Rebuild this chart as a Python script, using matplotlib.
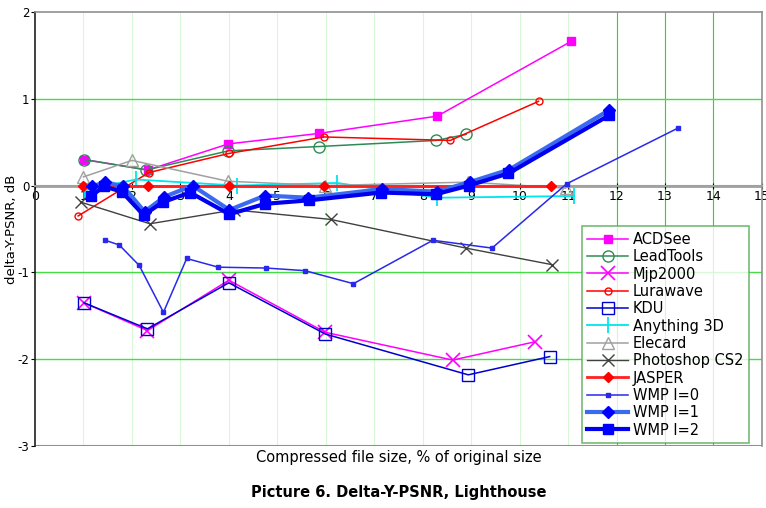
import matplotlib
matplotlib.use("Agg")
import matplotlib.pyplot as plt

# values
acdsee_x = [1.01, 2.33, 3.99, 5.85, 8.30, 11.06]
acdsee_y = [0.30, 0.18, 0.48, 0.60, 0.80, 1.66]

leadtools_x = [1.01, 2.30, 3.99, 5.87, 8.28, 8.90]
leadtools_y = [0.30, 0.18, 0.40, 0.45, 0.52, 0.59]

mjp2000_x = [1.01, 2.32, 4.00, 5.99, 8.62, 10.31]
mjp2000_y = [-1.35, -1.67, -1.09, -1.69, -2.01, -1.80]

lurawave_x = [0.89, 2.35, 4.00, 5.96, 8.57, 10.39]
lurawave_y = [-0.35, 0.15, 0.37, 0.56, 0.52, 0.97]

kdu_x = [1.01, 2.32, 4.00, 5.99, 8.94, 10.62]
kdu_y = [-1.35, -1.65, -1.12, -1.71, -2.18, -1.97]

anything3d_x = [1.03, 2.08, 4.16, 6.24, 8.30, 11.12]
anything3d_y = [-0.05, 0.07, 0.00, 0.03, -0.14, -0.12]

elecard_x = [1.00, 2.00, 3.98, 5.99, 8.94, 10.95]
elecard_y = [0.10, 0.29, 0.05, 0.00, 0.04, -0.03]

photoshop_x = [0.94, 2.37, 4.11, 6.10, 8.89, 10.66]
photoshop_y = [-0.19, -0.44, -0.28, -0.39, -0.72, -0.91]

jasper_x = [1.00, 2.33, 4.00, 5.96, 8.92, 10.65]
jasper_y = [0.0, 0.0, 0.0, 0.0, 0.0, 0.0]

wmp0_x = [1.45, 1.74, 2.15, 2.65, 3.13, 3.78, 4.77, 5.57, 6.57, 8.21, 9.43, 10.97, 13.26]
wmp0_y = [-0.63, -0.685, -0.92, -1.46, -0.84, -0.94, -0.95, -0.98, -1.13, -0.63, -0.72, 0.02, 0.66]

wmp1_x = [1.17, 1.45, 1.82, 2.26, 2.67, 3.25, 4.01, 4.75, 5.64, 7.16, 8.29, 8.97, 9.79, 11.85]
wmp1_y = [-0.01, 0.04, -0.01, -0.30, -0.13, 0.00, -0.28, -0.115, -0.14, -0.04, -0.07, 0.04, 0.185, 0.87]

wmp2_x = [1.16, 1.42, 1.79, 2.24, 2.64, 3.20, 4.01, 4.75, 5.65, 7.14, 8.27, 8.95, 9.77, 11.85]
wmp2_y = [-0.12, -0.01, -0.07, -0.34, -0.19, -0.08, -0.33, -0.21, -0.17, -0.08, -0.10, 0.00, 0.14, 0.81]

x_ticks = list(range(0, 16))
y_ticks = [2, 1, 0, -1, -2, -3]

fig = plt.figure(figsize=(7.66, 5.08), dpi=100)
ax = fig.add_axes([0.0457, 0.122, 0.949, 0.8545])
ax.set_xlim(0, 15)
ax.set_ylim(-3, 2)

# grid as in the original spreadsheet chart
for gx in range(1, 12):
    ax.axvline(gx, color='#d8f8d8', lw=0.8, zorder=0)
for gx in range(12, 15):
    ax.axvline(gx, color='#22dd22', lw=0.8, zorder=0)
for gy in [1, -1, -2]:
    ax.axhline(gy, color='#44dd44', lw=1.0, zorder=0)
ax.axhline(-3, color='#909090', lw=1.5, zorder=1)
ax.axhline(0, color='#a0a0a0', lw=2.0, zorder=1)

ax.plot(acdsee_x, acdsee_y, color='#ff00ff', lw=1.1, marker='s', ms=6, label='ACDSee', zorder=3)
ax.plot(leadtools_x, leadtools_y, color='#2e8b57', lw=1.1, marker='o', ms=8, mfc='none',
        label='LeadTools', zorder=3)
ax.plot(mjp2000_x, mjp2000_y, color='#ff00ff', lw=1.1, marker='x', ms=10, mew=1.2,
        label='Mjp2000', zorder=3)
ax.plot(lurawave_x, lurawave_y, color='#ff0000', lw=1.1, marker='o', ms=5, mfc='none',
        label='Lurawave', zorder=3)
ax.plot(kdu_x, kdu_y, color='#0000cc', lw=1.1, marker='s', ms=8, mfc='none',
        label='KDU', zorder=3)
ax.plot(anything3d_x, anything3d_y, color='#00e5ee', lw=1.3, marker='|', ms=12, mew=1.3,
        label='Anything 3D', zorder=3)
ax.plot(elecard_x, elecard_y, color='#a0a0a0', lw=1.1, marker='^', ms=8, mfc='none',
        label='Elecard', zorder=3)
ax.plot(photoshop_x, photoshop_y, color='#404040', lw=1.0, marker='x', ms=9, mew=1.0,
        label='Photoshop CS2', zorder=3)
ax.plot(jasper_x, jasper_y, color='#ff2020', lw=2.0, marker='D', ms=5, mfc='#ff0000',
        mec='#ff0000', label='JASPER', zorder=4)
ax.plot(wmp0_x, wmp0_y, color='#2828ee', lw=1.1, marker='s', ms=2.5, label='WMP I=0', zorder=3)
ax.plot(wmp1_x, wmp1_y, color='#3a6af0', lw=3.0, marker='D', ms=6, mfc='#0000ff',
        mec='#0000ff', label='WMP I=1', zorder=4)
ax.plot(wmp2_x, wmp2_y, color='#0000ee', lw=3.0, marker='s', ms=7, mfc='#0000ff',
        mec='#0000ff', label='WMP I=2', zorder=4)

# axes: x axis crosses at zero
ax.spines['bottom'].set_position(('data', 0))
ax.spines['bottom'].set_color('#a0a0a0')
ax.spines['bottom'].set_linewidth(1.5)
ax.spines['left'].set_color('#202020')
ax.spines['left'].set_linewidth(1.2)
for side in ['top', 'right']:
    ax.spines[side].set_color('#909090')
    ax.spines[side].set_linewidth(1.2)

ax.set_xticks(x_ticks)
ax.set_xticklabels([str(v) for v in x_ticks], fontsize=9)
ax.set_yticks(y_ticks)
ax.set_yticklabels([str(v) for v in y_ticks], fontsize=8.5)
ax.tick_params(axis='x', direction='inout', length=4, pad=1, colors='#000000')
ax.tick_params(axis='y', direction='out', length=3, pad=1)

ax.set_ylabel('delta-Y-PSNR, dB', fontsize=9.5)
ax.yaxis.set_label_coords(-0.023, 0.50)

leg = ax.legend(loc='lower left', bbox_to_anchor=(0.752, 0.006), borderaxespad=0,
                fontsize=10.5, frameon=True, fancybox=False, labelspacing=0.16,
                handlelength=2.8, handletextpad=0.3, borderpad=0.4)
leg.get_frame().set_edgecolor('#55aa55')
leg.get_frame().set_linewidth(1.2)
leg.set_zorder(10)

fig.text(0.52, 0.100, 'Compressed file size, % of original size', ha='center', va='center',
         fontsize=10.5)
fig.text(0.52, 0.030, 'Picture 6. Delta-Y-PSNR, Lighthouse', ha='center', va='center',
         fontsize=10.5, fontweight='bold')

fig.savefig('out.png', dpi=100)
